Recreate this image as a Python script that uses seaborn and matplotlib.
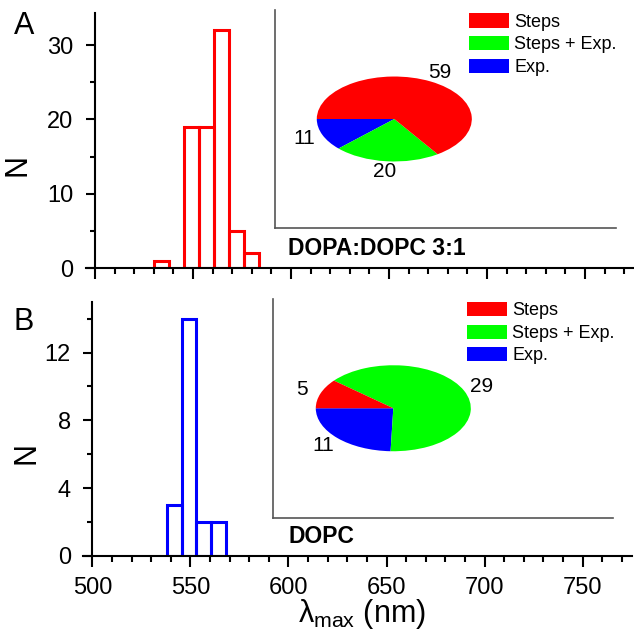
import matplotlib
matplotlib.use("Agg")
import matplotlib.pyplot as plt
from matplotlib.ticker import MultipleLocator
import seaborn as sns

# histogram bins (nm) and counts
edges_a = [530.3, 537.9, 545.5, 553.1, 560.7, 568.3, 575.9, 583.5]
counts_a = [1, 0, 19, 19, 32, 5, 2]
edges_b = [537.9, 545.5, 553.1, 560.7, 568.3]
counts_b = [3, 14, 2, 2]

# pie insets
pie_labels = ["Steps", "Steps + Exp.", "Exp."]
pie_colors = ["#ff0000", "#00ff00", "#0000ff"]
pie_a = [59, 20, 11]
pie_b = [5, 29, 11]

x_ticks = [500, 550, 600, 650, 700, 750]
y_ticks_a = [0, 10, 20, 30]
y_ticks_b = [0, 4, 8, 12]

sns.set_style("ticks")
plt.rcParams["font.family"] = ["Liberation Sans", "DejaVu Sans"]
plt.rcParams["mathtext.fontset"] = "custom"
plt.rcParams["mathtext.rm"] = "Liberation Sans"
plt.rcParams["mathtext.it"] = "Liberation Sans"
for k in ("text.color", "axes.labelcolor", "xtick.color", "ytick.color",
          "axes.edgecolor"):
    plt.rcParams[k] = "black"

W, H = 634, 631
fig = plt.figure(figsize=(W / 100, H / 100), dpi=100)


def px(x0, y0, x1, y1):
    # pixel box (top-left origin) -> figure fraction rect
    return [x0 / W, 1 - y1 / H, (x1 - x0) / W, (y1 - y0) / H]


def histo(ax, edges, counts, color, xlim, ylim, yticks, ymin_step, show_x):
    centers = [(l + r) / 2 for l, r in zip(edges[:-1], edges[1:])]
    sns.histplot(x=centers, weights=counts, bins=edges, fill=False,
                 color=color, linewidth=2.2, ax=ax)
    for p in ax.patches:
        if p.get_height() == 0:
            p.set_visible(False)
    ax.set_xlim(*xlim)
    ax.set_ylim(*ylim)
    ax.set_xticks(x_ticks)
    ax.xaxis.set_minor_locator(MultipleLocator(10))
    ax.set_yticks(yticks)
    ax.yaxis.set_minor_locator(MultipleLocator(ymin_step))
    ax.spines["left"].set_position(("data", 500))
    ax.spines["top"].set_visible(False)
    ax.spines["right"].set_visible(False)
    for s in ("left", "bottom"):
        ax.spines[s].set_linewidth(1.5)
    ax.tick_params(axis="x", which="major", length=8, width=1.5, pad=7,
                   labelsize=17, labelbottom=show_x)
    ax.tick_params(axis="x", which="minor", length=4, width=1.5)
    ax.tick_params(axis="y", which="major", length=6.5, width=1.5, pad=9,
                   labelsize=17)
    ax.tick_params(axis="y", which="minor", length=3.5, width=1.5)
    ax.set_xlabel("")
    ax.set_ylabel("N", fontsize=22)


def pie_inset(rect, frame_rect, values, title, title_xy, leg_xy):
    fr = fig.add_axes(frame_rect, facecolor="none")
    fr.set_xticks([])
    fr.set_yticks([])
    fr.spines["top"].set_visible(False)
    fr.spines["right"].set_visible(False)
    for s in ("left", "bottom"):
        fr.spines[s].set_color("#555555")
        fr.spines[s].set_linewidth(1.2)

    ax = fig.add_axes(rect)
    wedges, texts = ax.pie(values[::-1], colors=pie_colors[::-1],
                           labels=[str(v) for v in values[::-1]],
                           startangle=180, counterclock=True, radius=1,
                           labeldistance=1.25,
                           wedgeprops=dict(linewidth=0),
                           textprops=dict(fontsize=15))
    for t in texts:
        t.set_ha("center")
        t.set_va("center")
    ax.set_aspect("auto")
    ax.set_xlim(-1.25, 1.25)
    ax.set_ylim(-1.25, 1.25)
    ax.legend(wedges[::-1], pie_labels, loc="upper left",
              bbox_to_anchor=(leg_xy[0] / W, 1 - leg_xy[1] / H),
              bbox_transform=fig.transFigure, frameon=False, fontsize=13,
              borderpad=0, borderaxespad=0, handlelength=2.2,
              handleheight=0.85, handletextpad=0.3, labelspacing=0.28)
    fig.text(title_xy[0] / W, 1 - title_xy[1] / H, title, fontsize=16.5,
             fontweight="bold", ha="left", va="baseline")


ax_a = fig.add_axes(px(86, 13, 634, 268.3))
histo(ax_a, edges_a, counts_a, "#ff0000", (495.4, 775), (0, 34.3),
      y_ticks_a, 5, False)
ax_a.yaxis.set_label_coords(-0.098, 0.405)

ax_b = fig.add_axes(px(82.5, 301.7, 631.5, 556))
histo(ax_b, edges_b, counts_b, "#0000ff", (495.0, 774.9), (0, 15),
      y_ticks_b, 2, True)
ax_b.yaxis.set_label_coords(-0.074, 0.405)
ax_b.set_xlabel(r"$\lambda_{\mathrm{max}}$ (nm)", fontsize=22)
ax_b.xaxis.set_label_coords(0.5085, -0.16)

pie_inset(px(297.4, 65.9, 491.2, 172.1), px(275, 10, 616, 228), pie_a,
          "DOPA:DOPC 3:1", (288, 255), (469.3, 13.5))
pie_inset(px(296.4, 354.5, 490.2, 462.0), px(273, 299, 613, 517.7), pie_b,
          "DOPC", (288, 543.3), (467.3, 302))

fig.text(23.7 / W, 1 - 25.5 / H, "A", fontsize=22, ha="center", va="center")
fig.text(24 / W, 1 - 321.7 / H, "B", fontsize=22, ha="center", va="center")

fig.savefig("out.png", dpi=100)
